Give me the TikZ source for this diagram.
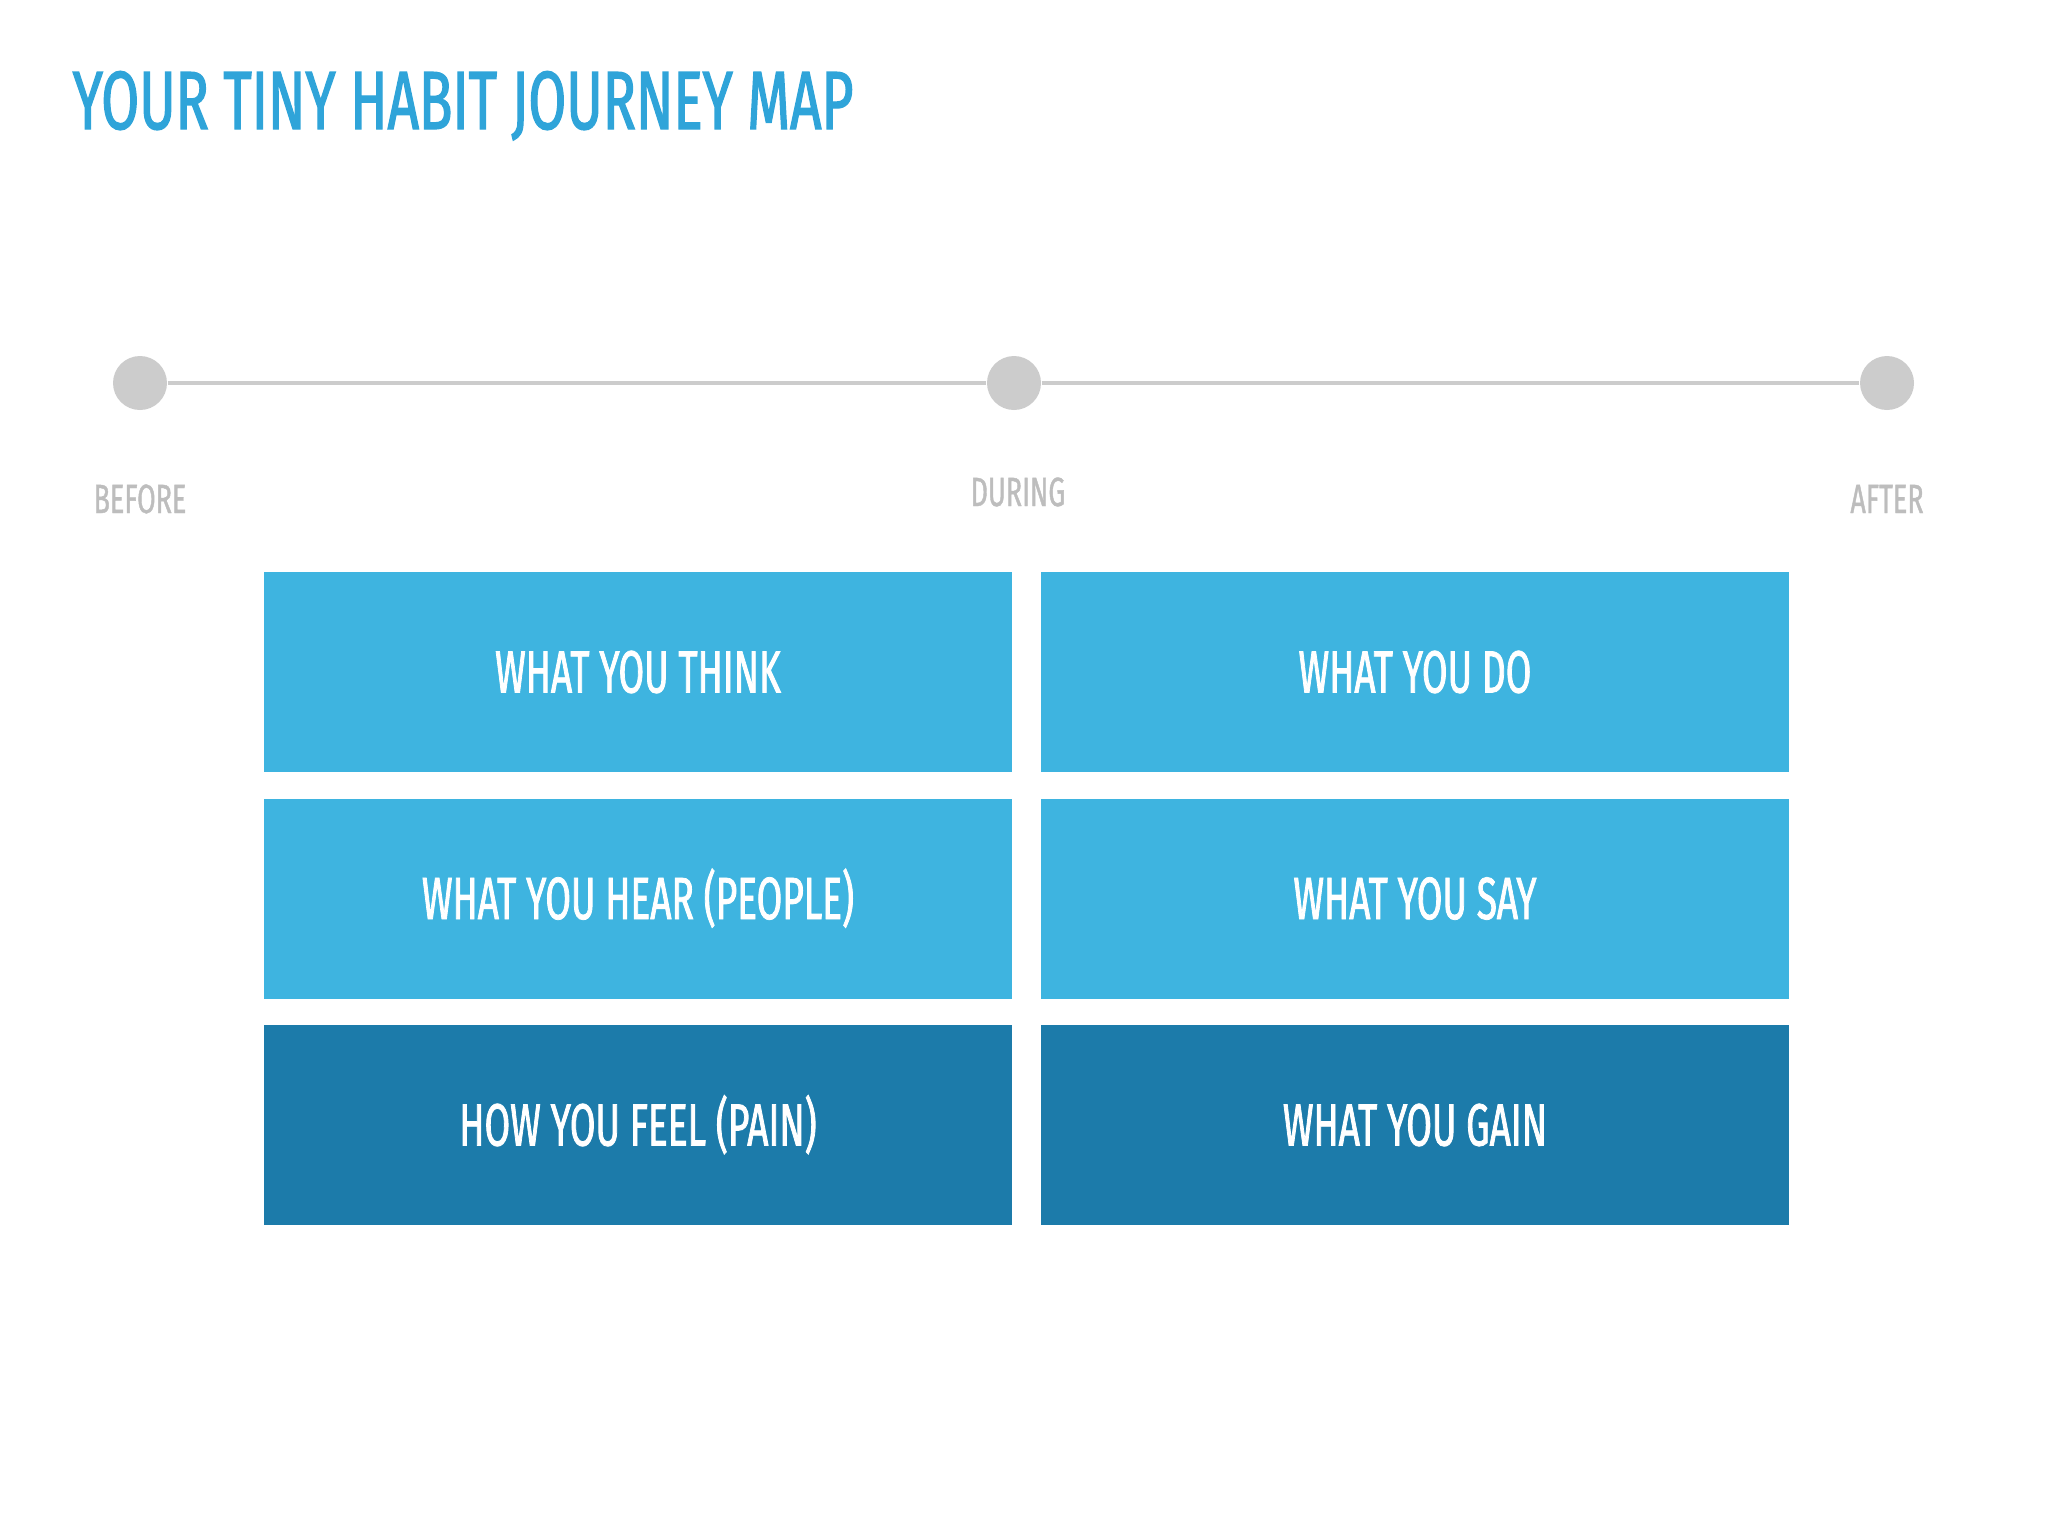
\documentclass[tikz,border=0pt]{standalone}
\usepackage{fontspec}
\setmainfont{Fira Sans}
\newfontfamily\boxfont[FakeStretch=0.62, FakeBold=1.3]{Fira Sans}
\newfontfamily\labelfont[FakeStretch=0.66, FakeBold=1]{Fira Sans}
\newfontfamily\titlefont[FakeStretch=0.665, FakeBold=1.5]{Fira Sans}
\usetikzlibrary{matrix}
\definecolor{titleblue}{HTML}{2FA4D9}
\definecolor{lightblue}{HTML}{3EB4E0}
\definecolor{darkblue}{HTML}{1C7BAA}
\definecolor{stopgray}{HTML}{CCCCCC}
\definecolor{labelgray}{HTML}{BDBDBD}

\begin{document}
\begin{tikzpicture}[x=0.1mm,y=-0.1mm]
        \useasboundingbox (0,0) rectangle (2048,1536);
        \node[anchor=base west, inner sep=0, text=titleblue, font=\titlefont\fontsize{23.5}{28}\selectfont] (title) at (72,129) {YOUR TINY HABIT JOURNEY MAP};
        % timeline
        \foreach \name/\x in {before/140, during/1014, after/1887}
            \node[circle, fill=stopgray, minimum size=5.4mm, inner sep=0] (\name) at (\x,383) {};
        \draw[stopgray, line width=0.9pt] (before) -- (during) -- (after);
        \node[anchor=base, inner sep=0, text=labelgray, font=\labelfont\fontsize{11.6}{14}\selectfont] (beforetext) at (140,513) {BEFORE};
        \node[anchor=base, inner sep=0, text=labelgray, font=\labelfont\fontsize{11.6}{14}\selectfont] (duringtext) at (1018,506) {DURING};
        \node[anchor=base, inner sep=0, text=labelgray, font=\labelfont\fontsize{11.6}{14}\selectfont] (aftertext) at (1887,513) {AFTER};
        % boxes
        \matrix[matrix of nodes, inner sep=0, nodes={fill=lightblue, text=white, anchor=center, minimum width=7.48cm, minimum height=2cm, text height=11.7pt, text depth=0pt, font=\boxfont\fontsize{17}{20}\selectfont}, column sep=0.29cm, row sep=0.265cm] (map) at (1026.5,898.5) {
            WHAT YOU THINK & WHAT YOU DO \\
            WHAT YOU HEAR (PEOPLE) & WHAT YOU SAY \\
            |[fill=darkblue]| HOW YOU FEEL (PAIN) & |[fill=darkblue]| WHAT YOU GAIN \\
        };
    \end{tikzpicture}
\end{document}
